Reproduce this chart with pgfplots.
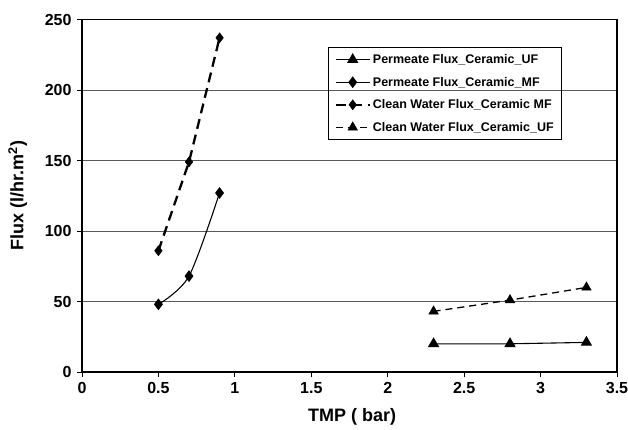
\documentclass[border=0pt]{standalone}
\usepackage{pgfplots}
\pgfplotsset{compat=1.18}
\usepackage{fontspec}
\setmainfont{Liberation Sans}
\begin{document}
\begin{tikzpicture}
\begin{axis}[
  scale only axis, width=535pt, height=352.5pt,
  at={(0,0)}, anchor=south west,
  xmin=0, xmax=3.5, ymin=0, ymax=250,
  xtick={0,0.5,1,1.5,2,2.5,3,3.5},
  xticklabels={0,0.5,1,1.5,2,2.5,3,3.5},
  ytick={0,50,100,150,200,250},
  yticklabels={0,50,100,150,200,250},
  xtick pos=bottom, ytick pos=left,
  axis line style={line width=1.2pt, black},
  tick align=outside, major tick length=5pt,
  tick style={line width=0.8pt, black},
  ymajorgrids, grid style={black!65, line width=0.8pt},
  ticklabel style={font=\bfseries\fontsize{16}{18}\selectfont},
  yticklabel style={xshift=-2pt},
  xticklabel style={yshift=-2pt},
  xlabel={\bfseries TMP ( bar)}, ylabel={\bfseries Flux (l/hr.m$^{\mathbf{2}}$)},
  every axis x label/.style={at={(rel axis cs:0.505,-0.128)}, anchor=center, font=\bfseries\fontsize{18}{20}\selectfont},
  every axis y label/.style={at={(rel axis cs:-0.12,0.5)}, anchor=center, rotate=90, font=\bfseries\fontsize{18}{20}\selectfont},
  legend style={at={(rel axis cs:0.46,0.922)}, anchor=north west, fill=none, draw=black, line width=0.8pt,
    font=\bfseries\fontsize{12.5}{14}\selectfont, row sep=8pt, inner xsep=6pt, inner ysep=5pt},
  legend cell align=left,
  legend image code/.code={\draw[mark repeat=2,mark phase=2] plot coordinates {(0cm,0cm) (0.6cm,0cm) (1.2cm,0cm)};},
]
\addplot[black, line width=1.1pt, mark=triangle*, mark size=5.5pt, mark options={solid}] coordinates {(2.3,20) (2.8,20) (3.3,21)};
\addlegendentry{Permeate Flux\_Ceramic\_UF}
\addplot[black, line width=1.1pt, smooth, tension=0.5, mark=diamond*, mark size=5pt, mark options={solid}] coordinates {(0.5,48) (0.7,68) (0.9,127)};
\addlegendentry{Permeate Flux\_Ceramic\_MF}
\addplot[black, line width=2.3pt, dash pattern=on 10pt off 6pt, mark=diamond*, mark size=5pt, mark options={solid, line width=0.5pt}] coordinates {(0.5,86) (0.7,149) (0.9,237)};
\addlegendentry{Clean Water Flux\_Ceramic MF}
\addplot[black, line width=1.3pt, dash pattern=on 7pt off 5pt, mark=triangle*, mark size=5.5pt, mark options={solid, line width=0.5pt}] coordinates {(2.3,43) (2.8,51) (3.3,60)};
\addlegendentry{Clean Water Flux\_Ceramic\_UF}
\end{axis}
\draw[line width=1.4pt, black] (0pt,352.5pt) -- (535pt,352.5pt) -- (535pt,0pt);
\draw[line width=1.9pt, black] (0pt,352.5pt) -- (0pt,0pt) -- (535pt,0pt);
\pgfresetboundingbox
\path (-82pt,-57pt) rectangle (546pt,372pt);
\end{tikzpicture}
\end{document}
